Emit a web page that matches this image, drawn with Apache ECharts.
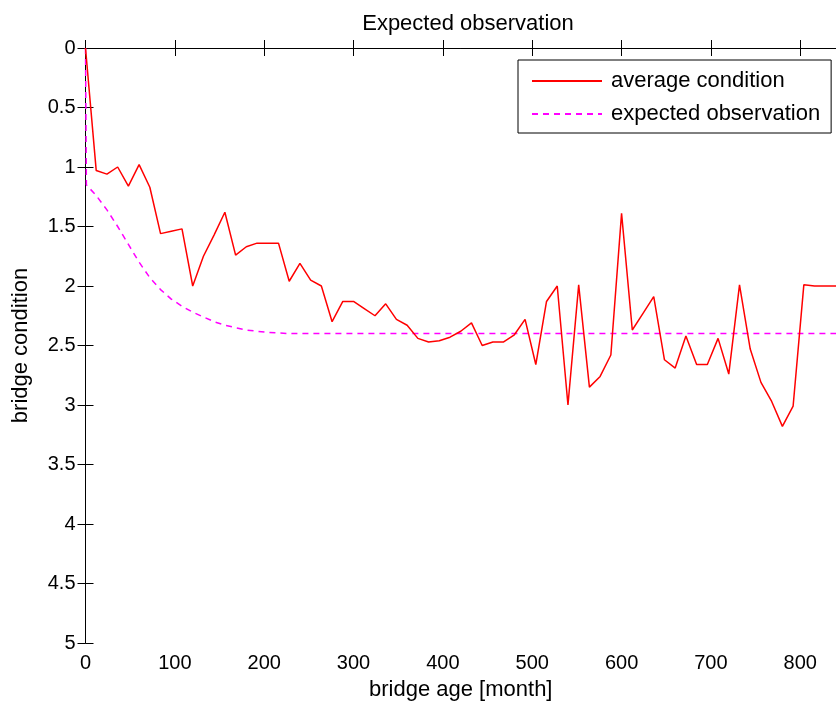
<!DOCTYPE html>
<html>
<head>
<meta charset="utf-8">
<script src="https://cdn.jsdelivr.net/npm/echarts@6/dist/echarts.min.js"></script>
<style>
html,body{margin:0;padding:0;background:#fff;}
#chart{width:836px;height:706px;}
</style>
</head>
<body>
<div id="chart"></div>
<script>
// ---- data ----
const avgMonths = [0,12,24,36,48,60,72,84,96,108,120,132,144,156,168,180,192,204,216,228,240,252,264,276,288,300,312,324,336,348,360,372,384,396,408,420,432,444,456,468,480,492,504,516,528,540,552,564,576,588,600,612,624,636,648,660,672,684,696,708,720,732,744,756,768,780,792,804,816,828,840];
const avgCondition = [0,1.03,1.06,1.00,1.16,0.98,1.17,1.56,1.54,1.52,2.00,1.75,1.57,1.38,1.74,1.67,1.64,1.64,1.64,1.96,1.81,1.95,2.00,2.30,2.13,2.13,2.19,2.25,2.15,2.28,2.33,2.44,2.47,2.46,2.43,2.38,2.31,2.50,2.47,2.47,2.41,2.28,2.66,2.13,2.00,3.00,1.99,2.85,2.76,2.58,1.39,2.37,2.23,2.09,2.62,2.69,2.42,2.66,2.66,2.44,2.74,1.99,2.53,2.81,2.97,3.18,3.01,1.99,2.00,2.00,2.00];
const expMonths = [0,1,12,24,36,48,60,72,84,96,108,120,132,144,156,168,180,192,204,216,228,240,300,400,500,600,700,800,840];
const expObservation = [0,1.15,1.24,1.36,1.50,1.65,1.80,1.93,2.03,2.11,2.17,2.22,2.26,2.30,2.33,2.35,2.37,2.38,2.39,2.395,2.40,2.40,2.40,2.40,2.40,2.40,2.40,2.40,2.40];
const xTicks = [0,100,200,300,400,500,600,700,800];
const yTicks = [0,0.5,1,1.5,2,2.5,3,3.5,4,4.5,5];
const seriesNames = ['average condition','expected observation'];
const titleText = 'Expected observation';
const xName = 'bridge age [month]';
const yName = 'bridge condition';

const FONT = '"Liberation Sans", Arial, sans-serif';
const chart = echarts.init(document.getElementById('chart'), null, {renderer:'canvas'});
const axisLine = {show:true, lineStyle:{color:'#000', width:1}};
const tickIn = {show:true, inside:true, length:8, lineStyle:{color:'#000', width:1}};

chart.setOption({
  animation:false,
  backgroundColor:'#fff',
  title:{text:titleText, left:463, textAlign:'center', top:8,
    textStyle:{fontFamily:FONT, fontSize:22, fontWeight:'normal', color:'#000'}},
  legend:{
    orient:'vertical', left:518, top:60,
    padding:[10,11,8,13], itemGap:11, itemWidth:70, itemHeight:22,
    backgroundColor:'#fff', borderColor:'#000', borderWidth:1,
    itemStyle:{opacity:0},
    textStyle:{fontFamily:FONT, fontSize:22, color:'#000', padding:[0,0,0,4]},
    data:seriesNames
  },
  grid:{left:85.5, right:-7, top:48, bottom:63, containLabel:false},
  xAxis:[{
    type:'value', min:xTicks[0], max:840, interval:xTicks[1]-xTicks[0],
    position:'bottom',
    name:xName, nameLocation:'middle', nameGap:36,
    nameTextStyle:{fontFamily:FONT, fontSize:22, color:'#000'},
    axisLine:axisLine, axisTick:tickIn,
    axisLabel:{fontFamily:FONT, fontSize:20, color:'#000', margin:10, showMaxLabel:false},
    splitLine:{show:false}
  },{
    type:'value', min:xTicks[0], max:840, interval:xTicks[1]-xTicks[0],
    position:'top', axisLine:axisLine, axisTick:tickIn,
    axisLabel:{show:false}, splitLine:{show:false}
  }],
  yAxis:[{
    type:'value', inverse:true, min:yTicks[0], max:yTicks[yTicks.length-1], interval:yTicks[1]-yTicks[0],
    position:'left',
    name:yName, nameLocation:'middle', nameGap:54, nameRotate:90,
    nameTextStyle:{fontFamily:FONT, fontSize:22, color:'#000'},
    axisLine:axisLine, axisTick:tickIn,
    axisLabel:{fontFamily:FONT, fontSize:20, color:'#000', margin:10},
    splitLine:{show:false}
  },{
    type:'value', inverse:true, min:yTicks[0], max:yTicks[yTicks.length-1], interval:yTicks[1]-yTicks[0],
    position:'right', axisLine:axisLine, axisTick:tickIn,
    axisLabel:{show:false}, splitLine:{show:false}
  }],
  series:[{
    name:seriesNames[0], type:'line', xAxisIndex:0, yAxisIndex:0,
    symbol:'none', showSymbol:false,
    lineStyle:{color:'#ff0000', width:1.5},
    itemStyle:{color:'#ff0000'},
    data:avgMonths.map((m,i)=>[m, avgCondition[i]]),
    z:3
  },{
    name:seriesNames[1], type:'line', xAxisIndex:0, yAxisIndex:0,
    symbol:'none', showSymbol:false,
    lineStyle:{color:'#ff00ff', width:1.5, type:[6,5]},
    itemStyle:{color:'#ff00ff'},
    data:expMonths.map((m,i)=>[m, expObservation[i]]),
    z:2
  }]
});
</script>
</body>
</html>
